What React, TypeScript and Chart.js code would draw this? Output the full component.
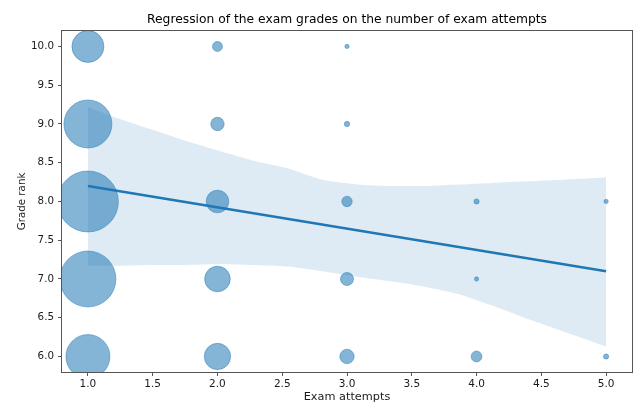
import React, { useEffect, useRef } from "react";
import { Chart, registerables } from "chart.js";

Chart.register(...registerables);

const chartTitle = "Regression of the exam grades on the number of exam attempts";
const xAxisLabel = "Exam attempts";
const yAxisLabel = "Grade rank";

const xTickValues = [1.0, 1.5, 2.0, 2.5, 3.0, 3.5, 4.0, 4.5, 5.0];
const yTickValues = [6.0, 6.5, 7.0, 7.5, 8.0, 8.5, 9.0, 9.5, 10.0];

// scatter bubbles: attempts, grade, number of students
const bubbleAttempts = [1, 1, 1, 1, 1, 2, 2, 2, 2, 2, 3, 3, 3, 3, 3, 4, 4, 4, 5, 5];
const bubbleGrades = [10, 9, 8, 7, 6, 10, 9, 8, 7, 6, 10, 9, 8, 7, 6, 8, 7, 6, 8, 6];
const bubbleCounts = [114, 256, 413, 348, 215, 11, 20, 57, 73, 77, 2, 3, 12, 19, 23, 3, 2, 13, 2, 3];

// regression line
const fitX = [1, 5];
const fitY = [8.2, 7.1];

// confidence band
const bandX = [1.0, 1.2, 1.47, 1.74, 2.0, 2.27, 2.54, 2.81, 3.08, 3.34, 3.6, 3.87, 4.13, 4.4, 4.66, 5.0];
const bandUpper = [9.22, 9.09, 8.94, 8.79, 8.66, 8.53, 8.43, 8.28, 8.22, 8.2, 8.2, 8.22, 8.24, 8.26, 8.28, 8.31];
const bandLower = [7.17, 7.17, 7.18, 7.18, 7.19, 7.18, 7.16, 7.1, 7.03, 6.97, 6.9, 6.8, 6.65, 6.48, 6.33, 6.13];

const BLUE = "rgb(31,119,180)";
const BUBBLE_FILL = "rgba(31,119,180,0.55)";
const BAND_FILL = "rgba(31,119,180,0.15)";
const AXIS_COLOR = "#555";
const TEXT_COLOR = "#1a1a1a";
const RADIUS_SCALE = 1.5;

const framePlugin = {
  id: "frame",
  afterDatasetsDraw(chart: any) {
    const { ctx, chartArea } = chart;
    const { left, top, right, bottom } = chartArea;
    ctx.save();
    ctx.strokeStyle = AXIS_COLOR;
    ctx.lineWidth = 1;
    ctx.strokeRect(Math.round(left) - 0.5, Math.round(top) - 0.5, Math.round(right - left) + 1, Math.round(bottom - top) + 1);
    ctx.restore();
  },
};

export default function App() {
  const canvasRef = useRef<HTMLCanvasElement | null>(null);

  useEffect(() => {
    document.body.style.margin = "0";
    const canvas = canvasRef.current;
    if (!canvas) return;
    Chart.defaults.font.family = "'DejaVu Sans', sans-serif";

    const chart = new Chart(canvas, {
      type: "scatter",
      data: {
        datasets: [
          {
            type: "line",
            label: "fit",
            data: fitX.map((x, i) => ({ x, y: fitY[i] })),
            borderColor: BLUE,
            borderWidth: 2.5,
            pointRadius: 0,
            fill: false,
            order: 0,
            clip: 0,
          } as any,
          {
            type: "line",
            label: "upper",
            data: bandX.map((x, i) => ({ x, y: bandUpper[i] })),
            borderColor: "transparent",
            borderWidth: 1,
            pointRadius: 0,
            tension: 0.2,
            fill: false,
            order: 1,
          } as any,
          {
            type: "line",
            label: "lower",
            data: bandX.map((x, i) => ({ x, y: bandLower[i] })),
            borderColor: "transparent",
            borderWidth: 1,
            pointRadius: 0,
            tension: 0.2,
            backgroundColor: BAND_FILL,
            fill: "-1",
            order: 1,
          } as any,
          {
            type: "bubble",
            label: "students",
            data: bubbleAttempts.map((x, i) => ({
              x,
              y: bubbleGrades[i],
              r: RADIUS_SCALE * Math.sqrt(bubbleCounts[i]),
            })),
            backgroundColor: BUBBLE_FILL,
            borderColor: "rgba(31,119,180,0.45)",
            borderWidth: 1,
            order: 2,
            clip: 0,
          } as any,
        ],
      },
      options: {
        animation: false,
        responsive: false,
        events: [],
        layout: { autoPadding: false, padding: { left: 0, right: 6, top: 0, bottom: 0 } },
        plugins: {
          legend: { display: false },
          tooltip: { enabled: false },
          title: {
            display: true,
            fullSize: false,
            text: chartTitle,
            color: "#000",
            font: { size: 12.3, weight: "normal" },
            padding: { top: 12.8, bottom: 3.4 },
          },
        },
        scales: {
          x: {
            type: "linear",
            min: 0.8,
            max: 5.2,
            afterBuildTicks: (scale: any) => {
              scale.ticks = xTickValues.map((v) => ({ value: v }));
            },
            afterFit: (scale: any) => {
              scale.height = 33;
              scale.paddingLeft = 0;
              scale.paddingRight = 0;
            },
            grid: { drawOnChartArea: false, drawTicks: true, tickLength: 4, color: AXIS_COLOR },
            border: { display: false },
            ticks: {
              color: TEXT_COLOR,
              font: { size: 10.5 },
              padding: 1.5,
              maxRotation: 0,
              autoSkip: false,
              callback: (v: any) => Number(v).toFixed(1),
            },
            title: {
              display: true,
              text: xAxisLabel,
              color: TEXT_COLOR,
              font: { size: 11.3 },
              padding: { top: 0, bottom: 1 },
            },
          },
          y: {
            type: "linear",
            min: 5.8,
            max: 10.2,
            afterBuildTicks: (scale: any) => {
              scale.ticks = yTickValues.map((v) => ({ value: v }));
            },
            afterFit: (scale: any) => {
              scale.width = 62;
              scale.paddingTop = 0;
              scale.paddingBottom = 0;
            },
            grid: { drawOnChartArea: false, drawTicks: true, tickLength: 4, color: AXIS_COLOR },
            border: { display: false },
            ticks: {
              color: TEXT_COLOR,
              font: { size: 10.3 },
              padding: 4,
              autoSkip: false,
              callback: (v: any) => Number(v).toFixed(1),
            },
            title: {
              display: true,
              text: yAxisLabel,
              color: TEXT_COLOR,
              font: { size: 10.3 },
              padding: { top: 16, bottom: 0 },
            },
          },
        },
      } as any,
      plugins: [framePlugin],
    });

    return () => chart.destroy();
  }, []);

  return (
    <div style={{ position: "absolute", left: 0, top: 0, width: 638, height: 405 }}>
      <canvas ref={canvasRef} width={638} height={405} />
    </div>
  );
}
